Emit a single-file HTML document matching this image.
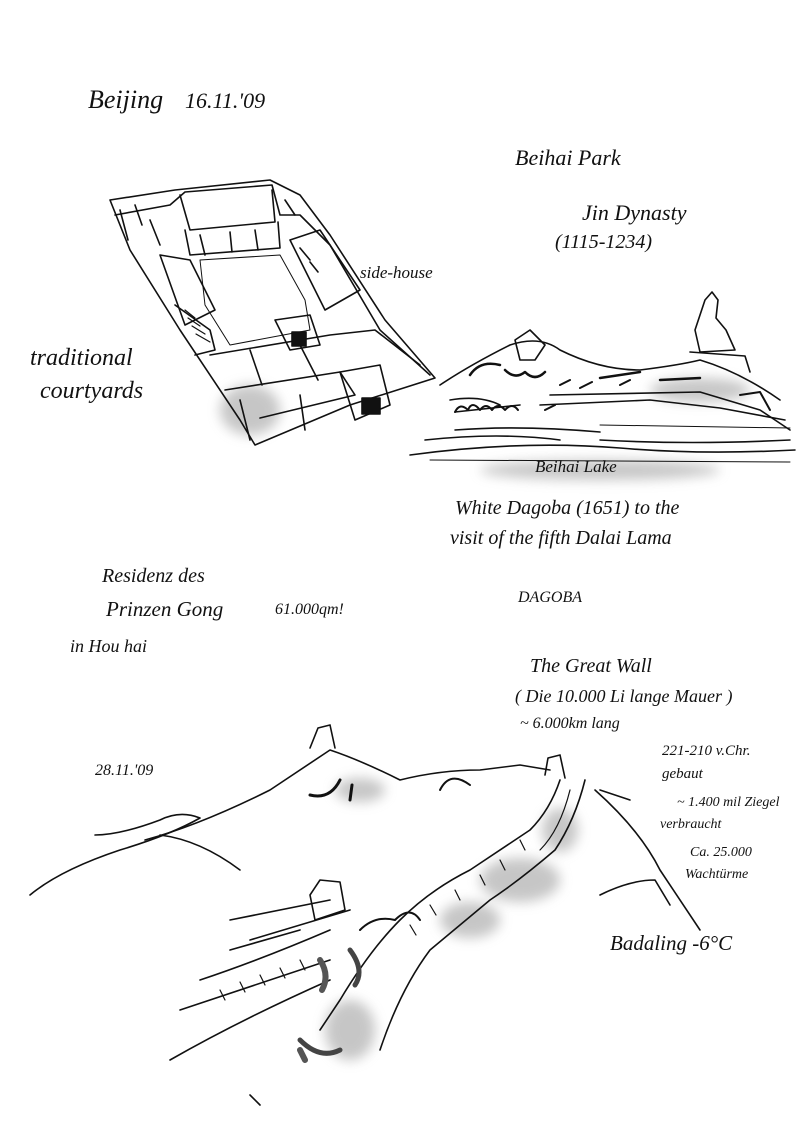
<!DOCTYPE html>
<html><head><meta charset="utf-8"><style>
html,body{margin:0;padding:0;background:#fff}
svg{display:block}
text{font-family:"Liberation Serif",serif;font-style:italic;fill:#111}
</style></head><body>
<svg width="800" height="1132" viewBox="0 0 800 1132" xmlns="http://www.w3.org/2000/svg">
<defs><filter id="bl"><feGaussianBlur stdDeviation="6"/></filter></defs>
<rect width="800" height="1132" fill="#fff"/>
<!-- grey shading -->
<g filter="url(#bl)" fill="#999" opacity="0.55">
<ellipse cx="520" cy="880" rx="40" ry="22"/>
<ellipse cx="470" cy="920" rx="30" ry="18"/>
<ellipse cx="560" cy="830" rx="18" ry="22"/>
<ellipse cx="350" cy="1030" rx="25" ry="30"/>
<ellipse cx="250" cy="410" rx="30" ry="25"/>
<ellipse cx="700" cy="390" rx="50" ry="12"/>
<ellipse cx="600" cy="470" rx="120" ry="10"/>
<ellipse cx="360" cy="790" rx="25" ry="12"/>
</g>
<g stroke="#111" fill="none" stroke-width="1.6" stroke-linecap="round" stroke-linejoin="round">
<!-- courtyard -->
<path d="M110 200 L175 190 L270 180 L300 195 L330 235 L385 320 L435 378 L350 405 L255 445 L240 420 L180 330 L130 250 Z"/>
<path d="M115 215 L170 205 L185 192 L272 185 L280 215 L300 215 L330 245 L380 330 L430 375"/>
<path d="M180 195 L190 230 L275 222 L272 190"/>
<path d="M185 230 L190 255 L280 248 L278 222"/>
<path d="M200 260 L280 255 L305 300 L310 330 L230 345 L205 305 Z" stroke-width="1"/>
<path d="M290 240 L320 230 L360 290 L325 310 Z"/>
<path d="M160 255 L190 260 L215 310 L185 325 Z"/>
<path d="M175 305 L210 330 L215 350 L195 355"/>
<path d="M275 320 L310 315 L320 345 L290 350 Z"/>
<path d="M210 355 L330 335 L375 330 L420 365"/>
<path d="M225 390 L340 372 L355 395 L260 418"/>
<path d="M340 372 L380 365 L390 405 L355 420 Z"/>
<rect x="362" y="398" width="18" height="16" fill="#111"/>
<rect x="292" y="332" width="14" height="14" fill="#111"/>
<path d="M150 220 L160 245 M200 235 L205 255 M230 232 L232 252 M255 230 L258 250"/>
<path d="M240 400 L250 440 M300 395 L305 430"/>
<path d="M185 310 L195 318 M188 318 L200 326 M192 326 L205 334 M196 334 L210 342" stroke-width="1.2"/>
<path d="M120 210 L128 240 M135 205 L142 225 M285 200 L295 215 M300 248 L310 260 M310 262 L318 272"/>
<path d="M250 350 L262 385 M300 345 L318 380"/>
<!-- pagoda hill -->
<path d="M440 385 Q470 365 510 345 Q540 335 560 350 Q600 370 640 370 Q680 365 700 360 Q740 372 780 400"/>
<path d="M705 300 L712 292 L718 300 L716 318 L726 330 L735 350 L700 352 L695 330 Z"/>
<path d="M690 352 L745 356 L750 372"/>
<path d="M515 340 L530 330 L545 345 L535 360 L520 360 Z"/>
<path d="M450 400 Q480 395 500 405 M455 412 L520 405 M540 405 L650 400 L720 408 L785 420"/>
<path d="M550 395 L700 392 L760 410 L790 430"/>
<path d="M410 455 Q520 440 620 448 Q700 455 795 450"/>
<path d="M425 440 Q500 432 560 440 M600 440 Q690 445 790 440"/>
<path d="M455 430 Q520 425 600 432"/>
<path d="M470 375 Q480 360 500 365 M600 378 L640 372 M660 380 L700 378" stroke-width="2.5"/>
<path d="M455 412 Q460 402 468 410 Q472 400 480 410 Q486 402 492 410 Q498 402 505 410 Q512 402 518 410" stroke-width="2"/>
<path d="M560 385 L570 380 M580 388 L592 382 M620 385 L630 380 M740 395 L760 392 L770 410 M545 410 L555 405" stroke-width="2"/>
<path d="M505 370 Q515 380 525 372 Q535 382 545 372" stroke-width="2.5"/>
<path d="M430 460 L790 462 M600 425 L790 428" stroke-width="1"/>
<!-- great wall ridges -->
<path d="M30 895 Q60 870 120 850 Q170 835 200 818 Q180 810 160 820 Q120 835 95 835"/>
<path d="M145 840 Q200 825 270 790 Q300 770 330 750 Q360 760 400 780 Q440 770 480 770 L520 765 L550 770"/>
<path d="M160 835 Q200 840 240 870"/>
<path d="M310 748 L318 728 L330 725 L335 748"/>
<path d="M545 775 L548 758 L560 755 L565 778"/>
<path d="M560 780 Q550 810 530 830 Q500 850 470 870 Q430 890 400 920 Q370 950 340 1000 L320 1030"/>
<path d="M585 780 Q575 820 555 850 Q520 880 490 900 Q460 925 430 950 Q400 990 380 1050"/>
<path d="M570 790 Q560 830 540 850 M520 840 L525 850 M500 860 L505 870 M480 875 L485 885 M455 890 L460 900 M430 905 L436 915 M410 925 L416 935" stroke-width="1.2"/>
<path d="M595 790 Q640 830 660 870 Q680 900 700 930"/>
<path d="M600 790 L630 800"/>
<path d="M310 895 L320 880 L340 882 L345 910 L315 920 Z"/>
<path d="M200 980 Q260 960 330 930 M180 1010 Q240 990 330 960 M170 1060 Q240 1020 330 980"/>
<path d="M220 990 L225 1000 M240 982 L245 992 M260 975 L265 985 M280 968 L285 978 M300 960 L305 970" stroke-width="1.2"/>
<path d="M230 920 L330 900 M250 940 L350 910 M230 950 L300 930"/>
<path d="M360 930 Q375 915 395 920 Q410 905 420 920" stroke-width="2"/>
<path d="M600 895 Q630 880 655 880 L670 905"/>
<path d="M250 1095 L260 1105"/>
<path d="M310 795 Q330 800 340 780 M350 800 L352 785" stroke-width="3"/>
<path d="M440 790 Q450 770 470 785" stroke-width="2"/>
<path d="M350 950 Q365 970 355 985 M300 1040 Q320 1060 340 1050" stroke-width="5" stroke="#444"/>
<path d="M320 960 Q330 975 322 990 M300 1050 L305 1060" stroke-width="6" stroke="#555"/>
</g>
<!-- text -->
<text x="88" y="108" font-size="26">Beijing</text>
<text x="185" y="108" font-size="22">16.11.'09</text>
<text x="360" y="278" font-size="17">side-house</text>
<text x="30" y="365" font-size="24">traditional</text>
<text x="40" y="398" font-size="24">courtyards</text>
<text x="515" y="165" font-size="22">Beihai Park</text>
<text x="582" y="220" font-size="22">Jin Dynasty</text>
<text x="555" y="248" font-size="20">(1115-1234)</text>
<text x="535" y="472" font-size="17">Beihai Lake</text>
<text x="455" y="514" font-size="20">White Dagoba (1651) to the</text>
<text x="450" y="544" font-size="20">visit of the fifth Dalai Lama</text>
<text x="102" y="582" font-size="20">Residenz des</text>
<text x="106" y="616" font-size="21">Prinzen Gong</text>
<text x="275" y="614" font-size="16">61.000qm!</text>
<text x="70" y="652" font-size="18">in Hou hai</text>
<text x="518" y="602" font-size="16">DAGOBA</text>
<text x="530" y="672" font-size="20">The Great Wall</text>
<text x="515" y="702" font-size="18">( Die 10.000 Li lange Mauer )</text>
<text x="520" y="728" font-size="16">~ 6.000km lang</text>
<text x="662" y="755" font-size="15">221-210 v.Chr.</text>
<text x="662" y="778" font-size="15">gebaut</text>
<text x="677" y="806" font-size="14">~ 1.400 mil Ziegel</text>
<text x="660" y="828" font-size="14">verbraucht</text>
<text x="690" y="856" font-size="14">Ca. 25.000</text>
<text x="685" y="878" font-size="14">Wachtürme</text>
<text x="95" y="775" font-size="16">28.11.'09</text>
<text x="610" y="950" font-size="21">Badaling -6°C</text>
</svg>
</body></html>
